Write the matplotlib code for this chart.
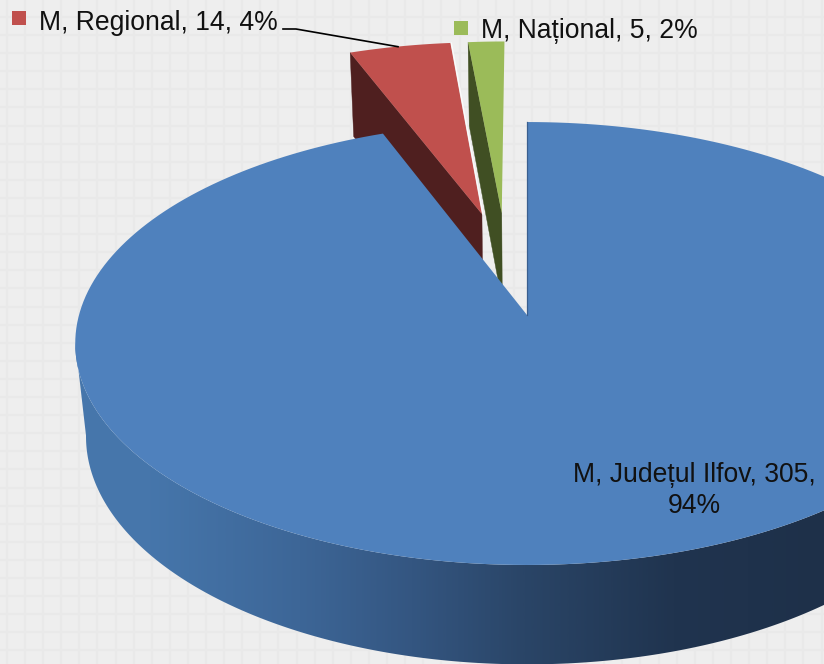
import numpy as np
import matplotlib
matplotlib.use("Agg")
import matplotlib.pyplot as plt
from matplotlib.patches import Polygon, Rectangle
from matplotlib.colors import LinearSegmentedColormap

# data
categories = ["M, Județul Ilfov", "M, Regional", "M, Național"]
values = [305, 14, 5]
percents = ["94%", "4%", "2%"]
top_colors = ["#4f81bd", "#c0504d", "#9bbb59"]
wall_colors = ["#3a5f8f", "#4f1f1f", "#404f23"]
explode_u = [0.0, -0.107, -0.060]
explode_v = [0.0, 0.493, 0.498]

# view model (projected disc)
CX, CY = 527.0, 315.0
R, S, K = 448.0, 217.8, 0.1287
E, D = 0.024, 95.0

plt.rcParams["font.family"] = ["Liberation Sans", "DejaVu Sans"]

fig = plt.figure(figsize=(8.24, 6.64), dpi=100)
ax = fig.add_axes([0, 0, 1, 1])
ax.set_axis_off()
ax.set_xlim(0, 824)
ax.set_ylim(664, 0)


def project(th, r, du, dv, lower=False):
    u = r * np.sin(th) + du
    v = r * np.cos(th) + dv
    if lower:
        w = 1 + K * v + E
        return CX + R * u / w, CY + (-S * v + D) / w
    w = 1 + K * v
    return CX + R * u / w, CY - S * v / w


def wedge_xy(t0, t1, du, dv):
    th = np.linspace(t0, t1, 240)
    x, y = project(th, 1.0, du, dv)
    ax0, ay0 = project(0.0, 0.0, du, dv)
    return np.column_stack([np.r_[ax0, x], np.r_[ay0, y]])


# backdrop
bg = Rectangle((0, 0), 824, 664, facecolor="#eeeeee", edgecolor="none", zorder=0)
ax.add_patch(bg)
for gx in np.arange(7, 830, 18.1):
    ax.plot([gx, gx], [0, 664], color="#e9e9e9", lw=1.5, zorder=0.5)
for gy in np.arange(-1.2, 670, 18.1):
    ax.plot([0, 824], [gy, gy], color="#e9e9e9", lw=1.5, zorder=0.5)

# slice angles, clockwise from the top
total = sum(values)
edges = np.r_[0, np.cumsum(values)] / total * 2 * np.pi

# exploded slices: far radial wall, then top
for i in (1, 2):
    t0, t1 = edges[i], edges[i + 1]
    du, dv = explode_u[i], explode_v[i]
    a = project(0.0, 0.0, du, dv)
    b = project(t0, 1.0, du, dv)
    a2 = project(0.0, 0.0, du, dv, lower=True)
    b2 = project(t0, 1.0, du, dv, lower=True)
    ax.add_patch(Polygon([a, b, b2, a2], closed=True, facecolor=wall_colors[i],
                         edgecolor=wall_colors[i], lw=0.3, zorder=2 + i))
    ax.add_patch(Polygon(wedge_xy(t0, t1, du, dv), closed=True, facecolor=top_colors[i],
                         edgecolor="none", zorder=2.5 + i))
    if i == 1:
        c = project(t1, 1.0, du, dv)
        ax.plot([c[0] + 1, a[0] + 1], [c[1], a[1]], color="white", alpha=0.8, lw=0.9, zorder=2.6 + i)

# main slice: outer wall with a horizontal shading, then top
th = np.radians(np.linspace(97, 263, 300))
xt, yt = project(th, 1.0, 0.0, 0.0)
xl, yl = project(th, 1.0, 0.0, 0.0, lower=True)
wall = Polygon(np.column_stack([np.r_[xt, xl[::-1]], np.r_[yt, yl[::-1]]]), closed=True,
               transform=ax.transData, facecolor="none", edgecolor="none", zorder=6)
ax.add_patch(wall)
cmap = LinearSegmentedColormap.from_list(
    "wall",
    [(0.0, "#4777ac"), (0.10, "#4676ab"), (0.30, "#3d6697"), (0.45, "#345681"),
     (0.60, "#2a4567"), (0.80, "#20344f"), (1.0, "#1e3049")])
img = ax.imshow(np.linspace(0, 1, 512)[None, :], extent=(75, 824, 664, 0), aspect="auto",
                cmap=cmap, zorder=6, interpolation="bilinear")
img.set_clip_path(wall)
ax.set_xlim(0, 824)
ax.set_ylim(664, 0)

ax.add_patch(Polygon(wedge_xy(edges[0], edges[1], 0.0, 0.0), closed=True,
                     facecolor=top_colors[0], edgecolor="none", zorder=7))
apex = project(0.0, 0.0, 0.0, 0.0)
rim0 = project(0.0, 1.0, 0.0, 0.0)
ax.plot([apex[0], rim0[0]], [apex[1], rim0[1]], color=wall_colors[0], lw=0.9, zorder=7.5)

# labels
txt = dict(fontsize=19.1, color="#111111", zorder=10, va="baseline")
ax.text(39, 29.5, f"{categories[1]}, {values[1]}, {percents[1]}", ha="left", **txt)
ax.text(481, 37.5, f"{categories[2]}, {values[2]}, {percents[2]}", ha="left", **txt)
ax.text(694, 482, f"{categories[0]}, {values[0]},", ha="center", **txt)
ax.text(694, 513, percents[0], ha="center", **txt)
ax.add_patch(Rectangle((12, 11), 14, 14, facecolor=top_colors[1], edgecolor="none", zorder=10))
ax.add_patch(Rectangle((454, 21), 14, 14, facecolor=top_colors[2], edgecolor="none", zorder=10))
ax.plot([283, 296, 398], [29, 29, 46.7], color="black", lw=1.2, zorder=9)

fig.savefig("out.png", dpi=100)
